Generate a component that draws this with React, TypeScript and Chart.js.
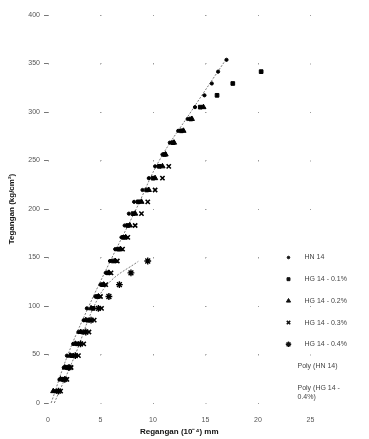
import React, { useEffect, useRef } from 'react';
import { Chart, registerables } from 'chart.js';
import { drawPoint } from 'chart.js/helpers';

Chart.register(...registerables);

// Stress levels (kg/cm²) for each load step
const stressLevels = [12.2, 24.4, 36.6, 48.8, 61.0, 73.2, 85.4, 97.6, 109.8, 122.0, 134.2, 146.4, 158.6, 170.8, 183.0, 195.2, 207.4, 219.6, 231.8, 244.0, 256.2, 268.4, 280.6, 292.8, 305.0, 317.2, 329.4, 341.6, 353.8];

// Strain (10^-4) per series, aligned with stressLevels
const hn14 = [0.6, 1.1, 1.5, 1.8, 2.4, 2.9, 3.4, 3.7, 4.5, 5.0, 5.5, 5.9, 6.4, 7.0, 7.3, 7.7, 8.2, 9.0, 9.6, 10.2, 10.9, 11.6, 12.4, 13.3, 14.0, 14.9, 15.6, 16.2, 17.0];
const hg14_01 = [0.9, 1.4, 1.8, 2.3, 2.8, 3.3, 3.8, 4.3, 4.7, 5.2, 5.7, 6.2, 6.7, 7.2, 7.6, 8.1, 8.6, 9.4, 10.0, 10.6, 11.1, 11.9, 12.7, 13.6, 14.5, 16.1, 17.6, 20.3];
const hg14_02 = [0.5, 1.2, 1.6, 2.1, 2.6, 3.1, 3.6, 4.1, 4.8, 5.3, 5.8, 6.4, 6.9, 7.4, 7.8, 8.3, 8.9, 9.6, 10.2, 10.9, 11.2, 12.0, 12.9, 13.7, 14.8];
const hg14_03 = [1.2, 1.8, 2.2, 2.9, 3.4, 3.9, 4.4, 5.1, 5.0, 5.5, 6.0, 6.6, 7.1, 7.6, 8.3, 8.9, 9.5, 10.2, 10.9, 11.5];
const hg14_04 = [1.0, 1.6, 2.0, 2.6, 3.1, 3.6, 4.1, 4.8, 5.8, 6.8, 7.9, 9.5];

// Trend lines
const polyHnStress = [0, 50, 100, 150, 200, 250, 300, 355];
const polyHnStrain = [0.3, 1.9, 3.9, 6.1, 8.4, 10.6, 13.6, 17.0];
const polyHg04Stress = [0, 50, 100, 125, 146];
const polyHg04Strain = [0.6, 2.6, 4.4, 5.9, 8.6];

const xTicksMax = 25;
const yTicksMax = 400;

const seriesLabels = ['HN 14', 'HG 14 - 0.1%', 'HG 14 - 0.2%', 'HG 14 - 0.3%', 'HG 14 - 0.4%', 'Poly (HN 14)', 'Poly (HG 14 - 0.4%)'];
const legendLines = [['HN 14'], ['HG 14 - 0.1%'], ['HG 14 - 0.2%'], ['HG 14 - 0.3%'], ['HG 14 - 0.4%'], ['Poly (HN 14)'], ['Poly (HG 14 -', '0.4%)']];

const xTitle = 'Regangan (10⁻⁴) mm';
const yTitle = 'Tegangan (kg/cm²)';

function pts(strains: number[], levels: number[]) {
  return strains.map((x, i) => ({ x, y: levels[i] }));
}

const markerStyles: any[] = [
  { pointStyle: 'circle', radius: 1.6, borderWidth: 1 },
  { pointStyle: 'rect', radius: 2.6, borderWidth: 1 },
  { pointStyle: 'triangle', radius: 3, borderWidth: 1 },
  { pointStyle: 'crossRot', radius: 3, borderWidth: 1.6 },
  { pointStyle: 'star', radius: 3.4, borderWidth: 1.4 },
  null,
  null,
];

const legendPlugin = {
  id: 'sideLegend',
  afterDraw(chart: any) {
    const ctx = chart.ctx;
    const area = chart.chartArea;
    const yScale = chart.scales.y;
    const markerX = area.right - 22;
    const textX = area.right - 6;
    const polyX = area.right - 13;
    let rowY = yScale.getPixelForValue(150);
    const step = 21.7;
    ctx.save();
    ctx.font = '7px "Liberation Sans", Arial, sans-serif';
    ctx.fillStyle = '#444';
    ctx.textBaseline = 'middle';
    ctx.textAlign = 'left';
    legendLines.forEach((lines, i) => {
      const m = markerStyles[i];
      if (m) {
        ctx.fillStyle = '#111';
        ctx.strokeStyle = '#111';
        ctx.lineWidth = m.borderWidth;
        drawPoint(ctx, { pointStyle: m.pointStyle, radius: m.radius * 0.8, rotation: 0, borderWidth: m.borderWidth }, markerX, rowY);
      }
      ctx.fillStyle = '#444';
      const tx = m ? textX : polyX;
      lines.forEach((t, j) => ctx.fillText(t, tx, rowY + j * 9.5));
      rowY += step;
    });
    ctx.restore();
  },
};

export default function App() {
  const canvasRef = useRef<HTMLCanvasElement | null>(null);

  useEffect(() => {
    document.body.style.margin = '0';
    const canvas = canvasRef.current;
    if (!canvas) return;
    const seriesData = [hn14, hg14_01, hg14_02, hg14_03, hg14_04];
    const datasets: any[] = seriesData.map((s, i) => ({
      label: seriesLabels[i],
      data: pts(s, stressLevels),
      pointStyle: markerStyles[i].pointStyle,
      pointRadius: markerStyles[i].radius,
      pointBorderWidth: markerStyles[i].borderWidth,
      backgroundColor: '#000',
      borderColor: '#000',
      showLine: false,
      order: 1,
    }));
    datasets.push({
      label: seriesLabels[5],
      data: pts(polyHnStrain, polyHnStress),
      showLine: true,
      pointRadius: 0,
      borderColor: '#444',
      borderWidth: 0.7,
      borderDash: [2, 1.5],
      tension: 0.4,
      order: 2,
    });
    datasets.push({
      label: seriesLabels[6],
      data: pts(polyHg04Strain, polyHg04Stress),
      showLine: true,
      pointRadius: 0,
      borderColor: '#444',
      borderWidth: 0.7,
      borderDash: [2, 1.5],
      tension: 0.4,
      order: 2,
    });

    const tickFont = { family: '"Liberation Sans", Arial, sans-serif', size: 7 };
    const titleFont = { family: '"Liberation Sans", Arial, sans-serif', size: 8, weight: 'bold' as const };

    const chart = new Chart(canvas, {
      type: 'scatter',
      data: { datasets },
      plugins: [legendPlugin],
      options: {
        responsive: false,
        animation: false,
        layout: { padding: { top: 15, right: 58.5, bottom: 0, left: 0 } },
        plugins: { legend: { display: false }, tooltip: { enabled: false } },
        scales: {
          x: {
            type: 'linear',
            min: 0,
            max: xTicksMax,
            afterFit: (s: any) => { s.height = 36; },
            ticks: { stepSize: 5, font: tickFont, color: '#555', padding: 13, maxRotation: 0 },
            grid: { color: '#9a9a9a', lineWidth: 1, drawTicks: false },
            border: { display: false, dash: [1, 47.5] },
            title: { display: true, text: xTitle, font: titleFont, color: '#111', padding: { top: 0, bottom: 2 } },
          },
          y: {
            type: 'linear',
            min: 0,
            max: yTicksMax,
            afterFit: (s: any) => { s.width = 48; },
            ticks: { stepSize: 50, font: tickFont, color: '#555', padding: 4 },
            grid: { color: '#9a9a9a', lineWidth: 1, drawTicks: true, tickLength: 4, tickColor: '#777', tickBorderDash: [] },
            border: { display: false, dash: [1, 51.5] },
            title: { display: true, text: yTitle, font: titleFont, color: '#111', padding: { top: 7, bottom: 0 } },
          },
        },
      },
    });
    return () => chart.destroy();
  }, []);

  return (
    <div style={{ width: 369, height: 439, background: '#fff' }}>
      <canvas ref={canvasRef} width={369} height={439} style={{ display: 'block' }} />
    </div>
  );
}
